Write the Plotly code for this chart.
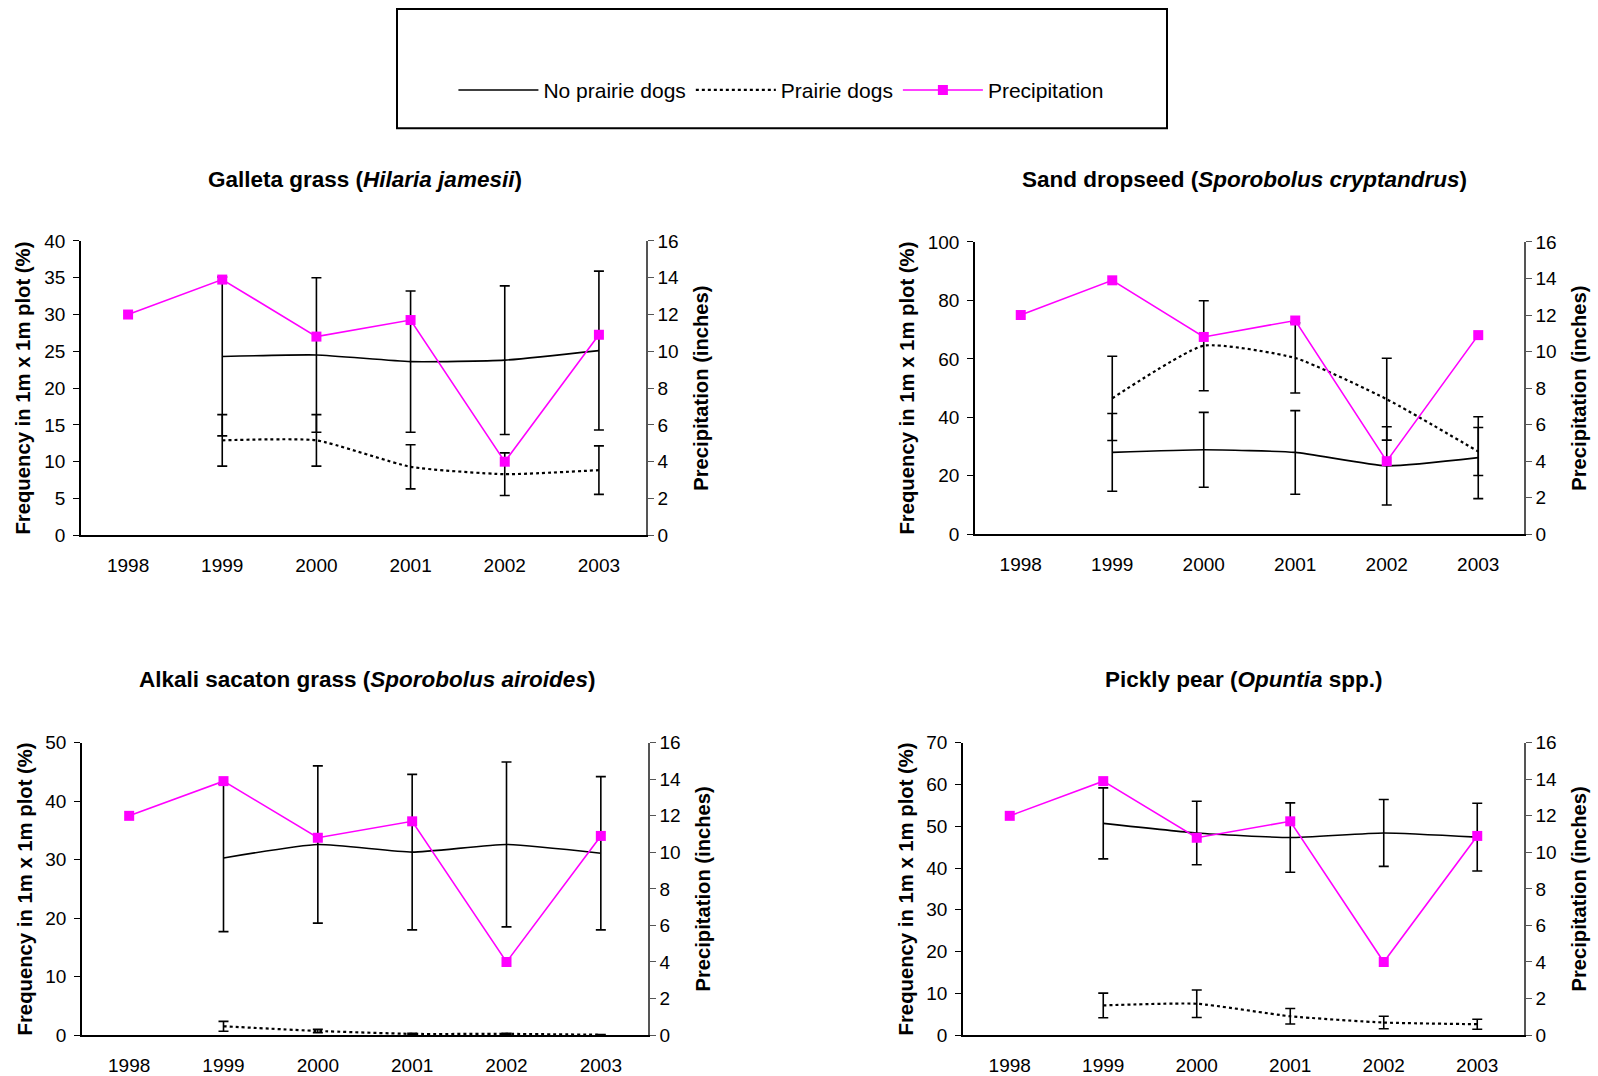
import plotly.graph_objects as go

years = ["1998", "1999", "2000", "2001", "2002", "2003"]
grass_years = ["1999", "2000", "2001", "2002", "2003"]
precip = [12.0, 13.9, 10.8, 11.7, 4.0, 10.9]

galleta_no = [24.3, 24.5, 23.6, 23.8, 25.1]
galleta_no_err = [10.8, 10.5, 9.6, 10.1, 10.8]
galleta_pd = [12.9, 12.9, 9.3, 8.3, 8.85]
galleta_pd_err = [3.5, 3.5, 3.0, 2.9, 3.3]

sand_no = [28.0, 28.9, 28.0, 23.4, 26.2]
sand_no_err = [13.3, 12.8, 14.3, 13.4, 14.0]
sand_pd = [46.5, 64.5, 60.3, 46.2, 28.3]
sand_pd_err = [14.4, 15.4, 12.0, 14.0, 8.2]

alkali_no = [30.3, 32.6, 31.3, 32.6, 31.1]
alkali_no_err = [12.6, 13.45, 13.3, 14.1, 13.1]
alkali_pd = [1.5, 0.7, 0.2, 0.2, 0.05]
alkali_pd_err = [0.85, 0.3, 0.1, 0.1, 0.05]

pear_no = [50.7, 48.4, 47.3, 48.4, 47.4]
pear_no_err = [8.5, 7.6, 8.3, 8.0, 8.1]
pear_pd = [7.1, 7.5, 4.5, 3.0, 2.6]
pear_pd_err = [2.95, 3.3, 1.85, 1.5, 1.2]

titles = [
    "<b>Galleta grass (<i>Hilaria jamesii</i>)</b>",
    "<b>Sand dropseed (<i>Sporobolus cryptandrus</i>)</b>",
    "<b>Alkali sacaton grass (<i>Sporobolus airoides</i>)</b>",
    "<b>Pickly pear (<i>Opuntia</i> spp.)</b>",
]
left_ranges = [40, 100, 50, 70]
left_dticks = [5, 20, 10, 10]
left_title = "Frequency in 1m x 1m plot (%)"
right_title = "Precipitation (inches)"
legend_names = ["No prairie dogs", "Prairie dogs", "Precipitation"]

W, H = 1598, 1076
# observed vertical calibration of the rendered page
T_OFF, B_OFF = 9.5, 12.0


def py(px):
    """paper y fraction for a target pixel row"""
    return 1 - (px - T_OFF) / (H - T_OFF - B_OFF)


# panel geometry in pixels (left, right, top, bottom)
panels_px = [
    (81, 646, 241, 536),
    (975, 1524, 242, 535),
    (82, 648, 744, 1037),
    (963, 1524, 744, 1037),
]
left_standoff = [8, 8, 7, 7]
title_px = [(365, 179), (1244, 179), (367, 681), (1244, 681)]

series = [
    (galleta_no, galleta_no_err, galleta_pd, galleta_pd_err),
    (sand_no, sand_no_err, sand_pd, sand_pd_err),
    (alkali_no, alkali_no_err, alkali_pd, alkali_pd_err),
    (pear_no, pear_no_err, pear_pd, pear_pd_err),
]

FONT = "Liberation Sans, Arial, sans-serif"
fig = go.Figure()
layout = {}
for i, (no, no_err, pd_, pd_err) in enumerate(series):
    k = i + 1
    xa = "x" if k == 1 else f"x{k}"
    yl_n = 2 * i + 1
    yr_n = 2 * i + 2
    yl = "y" if yl_n == 1 else f"y{yl_n}"
    yr = f"y{yr_n}"
    first = i == 0
    fig.add_trace(go.Scatter(
        x=grass_years, y=no, xaxis=xa, yaxis=yl, mode="lines",
        name=legend_names[0], showlegend=first, legendrank=1,
        line=dict(color="black", width=1.6, shape="spline", smoothing=0.5),
        error_y=dict(type="data", array=no_err, visible=True, color="black", thickness=1.6, width=5),
    ))
    fig.add_trace(go.Scatter(
        x=grass_years, y=pd_, xaxis=xa, yaxis=yl, mode="lines",
        name=legend_names[1], showlegend=first, legendrank=2,
        line=dict(color="black", width=2.2, dash="dot", shape="spline", smoothing=0.5),
        error_y=dict(type="data", array=pd_err, visible=True, color="black", thickness=1.6, width=5),
    ))
    fig.add_trace(go.Scatter(
        x=years, y=precip, xaxis=xa, yaxis=yr, mode="lines+markers",
        name=legend_names[2], showlegend=first, legendrank=3,
        line=dict(color="#FF00FF", width=1.6),
        marker=dict(symbol="square", size=10, color="#FF00FF"),
    ))
    l, r, t, b = panels_px[i]
    xdom = [l / W, r / W]
    ydom = [py(b), py(t)]
    xkey = "xaxis" if k == 1 else f"xaxis{k}"
    ylkey = "yaxis" if yl_n == 1 else f"yaxis{yl_n}"
    yrkey = f"yaxis{yr_n}"
    layout[xkey] = dict(
        domain=xdom, anchor=yl, type="category", categoryorder="array",
        categoryarray=years, range=[-0.5, 5.5], showline=True, linecolor="black",
        linewidth=1.5, ticks="", showgrid=False, zeroline=False,
        tickfont=dict(size=19, family=FONT), ticklabelstandoff=12,
    )
    layout[ylkey] = dict(
        domain=ydom, anchor=xa, range=[0, left_ranges[i]], dtick=left_dticks[i],
        showline=True, linecolor="black", linewidth=1.5, ticks="outside",
        ticklen=6, tickcolor="black", showgrid=False, zeroline=False,
        tickfont=dict(size=19, family=FONT), ticklabelstandoff=4,
        title=dict(text="<b>" + left_title + "</b>", font=dict(size=20.3, family=FONT),
                   standoff=left_standoff[i]),
    )
    layout[yrkey] = dict(
        domain=ydom, anchor=xa, overlaying=yl, side="right", range=[0, 16], dtick=2,
        showline=True, linecolor="#555555", linewidth=1.5, ticks="outside",
        ticklen=6, tickcolor="#555555", showgrid=False, zeroline=False,
        tickfont=dict(size=19, family=FONT),
        title=dict(text="<b>" + right_title + "</b>", font=dict(size=20.2, family=FONT), standoff=16),
    )

annotations = []
for i, txt in enumerate(titles):
    tx, ty = title_px[i]
    annotations.append(dict(
        text=txt, x=tx / W, y=py(ty), xref="paper", yref="paper",
        xanchor="center", yanchor="middle", showarrow=False,
        font=dict(size=22.5, family=FONT, color="black"),
    ))

fig.update_layout(
    width=W, height=H, autosize=False,
    margin=dict(l=0, r=0, t=0, b=0),
    plot_bgcolor="white", paper_bgcolor="white",
    font=dict(family=FONT, size=19, color="black"),
    annotations=annotations,
    shapes=[dict(type="rect", xref="paper", yref="paper",
                 x0=397 / W, x1=1167 / W, y0=py(128), y1=py(8.5),
                 line=dict(color="black", width=2))],
    legend=dict(orientation="h", x=0.489, xanchor="center", y=py(90),
                yanchor="middle", bgcolor="rgba(0,0,0,0)",
                font=dict(size=21, family=FONT, color="black"), itemwidth=80),
    **layout,
)

fig.write_html(
    "out.html",
    config={"displayModeBar": False},
    post_script=(
        "var gd=document.getElementById('{plot_id}');"
        "gd.style.position='absolute';gd.style.left='0px';gd.style.top='0px';"
        "document.body.style.margin='0';document.body.style.overflow='hidden';"
        "document.documentElement.style.overflow='hidden';"
    ),
)
